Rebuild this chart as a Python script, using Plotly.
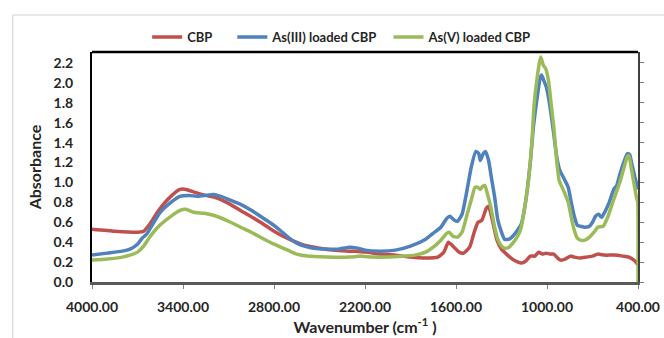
import plotly.graph_objects as go

# FTIR spectra: absorbance vs wavenumber (cm-1)
cbp_wn = [4000, 3850, 3700, 3660, 3620, 3560, 3480, 3420, 3380, 3320, 3250, 3190, 3100, 3000,
          2900, 2800, 2700, 2600, 2500, 2400, 2300, 2200, 2100, 2000, 1900, 1800, 1720, 1680,
          1650, 1620, 1580, 1550, 1510, 1480, 1455, 1430, 1400, 1385, 1360, 1330, 1300, 1260,
          1220, 1170, 1140, 1110, 1080, 1055, 1030, 1005, 980, 955, 930, 910, 880, 845, 820,
          780, 740, 700, 665, 620, 560, 500, 460, 420, 400]
cbp_abs = [0.53, 0.51, 0.50, 0.51, 0.58, 0.72, 0.86, 0.93, 0.93, 0.90, 0.87, 0.85, 0.79, 0.70,
           0.61, 0.51, 0.43, 0.37, 0.34, 0.32, 0.31, 0.30, 0.28, 0.27, 0.25, 0.24, 0.25, 0.30,
           0.40, 0.36, 0.30, 0.29, 0.35, 0.50, 0.60, 0.62, 0.74, 0.76, 0.62, 0.42, 0.33, 0.27,
           0.22, 0.19, 0.21, 0.26, 0.26, 0.30, 0.28, 0.29, 0.28, 0.28, 0.24, 0.22, 0.23, 0.26, 0.25,
           0.24, 0.25, 0.26, 0.28, 0.27, 0.27, 0.26, 0.25, 0.21, 0.17]

as3_wn = [4000, 3900, 3800, 3750, 3700, 3670, 3640, 3600, 3550, 3480, 3420, 3360, 3300, 3250,
          3200, 3150, 3100, 3020, 2950, 2890, 2820, 2760, 2700, 2650, 2600, 2540, 2450, 2380,
          2300, 2250, 2200, 2100, 2000, 1900, 1800, 1750, 1700, 1660, 1640, 1610, 1590, 1560,
          1530, 1500, 1470, 1450, 1440, 1420, 1405, 1385, 1370, 1345, 1325, 1300, 1280, 1250,
          1220, 1190, 1170, 1150, 1130, 1110, 1090, 1065, 1045, 1035, 1020, 1005, 990, 970, 955,
          935, 915, 895, 875, 860, 840, 820, 800, 780, 750, 720, 700, 680, 660, 640, 620, 590,
          560, 540, 520, 490, 470, 455, 440, 420, 400]
as3_abs = [0.27, 0.29, 0.31, 0.33, 0.38, 0.44, 0.48, 0.58, 0.70, 0.80, 0.86, 0.87, 0.86, 0.87,
           0.88, 0.86, 0.83, 0.78, 0.72, 0.66, 0.59, 0.52, 0.44, 0.39, 0.36, 0.34, 0.33, 0.33,
           0.35, 0.34, 0.32, 0.31, 0.32, 0.36, 0.43, 0.49, 0.55, 0.64, 0.66, 0.62, 0.61, 0.68,
           0.90, 1.15, 1.31, 1.29, 1.22, 1.29, 1.31, 1.22, 1.08, 0.85, 0.63, 0.50, 0.43, 0.43,
           0.47, 0.53, 0.58, 0.72, 0.93, 1.20, 1.55, 1.85, 2.05, 2.08, 2.02, 1.96, 1.85, 1.65, 1.48,
           1.25, 1.12, 1.06, 1.00, 0.95, 0.80, 0.66, 0.57, 0.56, 0.55, 0.56, 0.60, 0.66, 0.68, 0.65,
           0.70, 0.80, 0.93, 0.97, 1.08, 1.22, 1.29, 1.28, 1.18, 1.05, 0.93]

as5_wn = [4000, 3900, 3800, 3750, 3700, 3660, 3620, 3560, 3480, 3420, 3380, 3330, 3260, 3200,
          3100, 3020, 2950, 2890, 2800, 2710, 2650, 2580, 2450, 2300, 2230, 2150, 2050, 1950,
          1870, 1800, 1750, 1700, 1660, 1645, 1620, 1590, 1560, 1530, 1500, 1475, 1455, 1440,
          1425, 1410, 1390, 1370, 1345, 1325, 1300, 1280, 1250, 1220, 1190, 1170, 1150, 1125,
          1100, 1085, 1065, 1050, 1041, 1025, 1008, 990, 970, 955, 935, 920, 900, 880, 860, 840,
          820, 800, 780, 750, 720, 690, 665, 630, 600, 560, 520, 490, 470, 460, 445, 430, 410,
          402, 400]
as5_abs = [0.22, 0.23, 0.25, 0.27, 0.30, 0.36, 0.45, 0.56, 0.66, 0.72, 0.73, 0.70, 0.69, 0.67,
           0.61, 0.55, 0.50, 0.45, 0.38, 0.32, 0.28, 0.26, 0.25, 0.25, 0.26, 0.25, 0.25, 0.26,
           0.27, 0.30, 0.35, 0.42, 0.49, 0.50, 0.46, 0.45, 0.50, 0.66, 0.82, 0.95, 0.95, 0.93,
           0.96, 0.97, 0.87, 0.75, 0.55, 0.43, 0.36, 0.34, 0.35, 0.40, 0.47, 0.55, 0.72, 0.98,
           1.40, 1.78, 2.05, 2.20, 2.26, 2.18, 2.14, 2.02, 1.75, 1.55, 1.20, 1.02, 0.95, 0.88,
           0.80, 0.65, 0.52, 0.44, 0.42, 0.42, 0.45, 0.50, 0.55, 0.56, 0.65, 0.83, 1.00, 1.16,
           1.26, 1.27, 1.15, 1.02, 0.85, 0.80, 0.0]

x_ticks = [4000, 3400, 2800, 2200, 1600, 1000, 400]
y_max = 2.31

FONT = "Lato"
TXT = "#262626"

fig = go.Figure()
series = [
    ("CBP", cbp_wn, cbp_abs, "#C0504D", "legend", 0.101),
    ("As(III) loaded CBP", as3_wn, as3_abs, "#4F81BD", "legend2", 0.257),
    ("As(V) loaded CBP", as5_wn, as5_abs, "#9BBB59", "legend3", 0.543),
]
legend_boxes = {}
for name, wn, ab, col, lg, lx in series:
    fig.add_trace(go.Scatter(
        x=wn, y=ab, name=name, mode="lines", legend=lg,
        line=dict(color=col, width=3.5, shape="spline", smoothing=0.5),
        cliponaxis=False,
    ))
    legend_boxes[lg] = dict(
        orientation="h", x=lx, xanchor="left", y=1.065, yanchor="middle",
        font=dict(size=13, weight="bold", color=TXT),
        bgcolor="rgba(0,0,0,0)", borderwidth=0, itemwidth=30,
    )

# companion axis on the right: line and ticks only
fig.add_trace(go.Scatter(x=[None], y=[None], yaxis="y2", showlegend=False, hoverinfo="skip"))

fig.update_layout(
    width=664, height=338,
    margin=dict(l=92, r=26, t=52, b=56, autoexpand=False),
    paper_bgcolor="white", plot_bgcolor="white",
    font=dict(family=FONT, color=TXT),
    showlegend=True,
    **legend_boxes,
    xaxis=dict(
        range=[4000, 400], tickvals=x_ticks,
        ticktext=[f"{v:.2f}" for v in x_ticks],
        showgrid=False, zeroline=False, automargin=False,
        showline=True, linecolor="#595959", linewidth=3,
        ticks="outside", ticklen=4, tickcolor="#7f7f7f", tickwidth=1,
        tickfont=dict(size=14, weight="bold", color=TXT),
        ticklabelstandoff=6,
        title=dict(text="Wavenumber (cm<sup>-1</sup> )",
                   font=dict(size=16, weight="bold", color=TXT), standoff=4),
    ),
    yaxis=dict(
        range=[0, y_max], dtick=0.2, tickformat=".1f",
        showgrid=False, zeroline=False, automargin=False,
        showline=True, linecolor="black", linewidth=2,
        ticks="", tickfont=dict(size=14, weight="bold", color=TXT),
        ticklabelstandoff=14,
        title=dict(text="Absorbance", font=dict(size=16, weight="bold", color=TXT), standoff=8),
    ),
    yaxis2=dict(
        overlaying="y", side="right", range=[0, y_max], dtick=0.2,
        showgrid=False, zeroline=False, showticklabels=False, automargin=False,
        showline=True, linecolor="#404040", linewidth=2,
        ticks="outside", ticklen=4, tickcolor="#7f7f7f", tickwidth=1,
    ),
    shapes=[
        # top frame edge
        dict(type="line", xref="paper", yref="paper", x0=0, x1=1, y0=1, y1=1,
             line=dict(color="black", width=2.5)),
        # outer chart border
        dict(type="rect", xref="paper", yref="paper", x0=-0.145, x1=1.2, y0=-0.5, y1=1.161,
             line=dict(color="#d0d0d0", width=1), layer="below"),
    ],
)

fig.write_html("out.html")
